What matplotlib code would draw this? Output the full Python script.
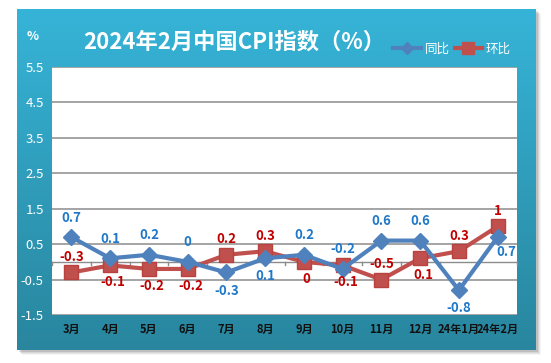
import numpy as np
import matplotlib
matplotlib.use("Agg")
import matplotlib.pyplot as plt
from matplotlib.patches import Rectangle
from matplotlib.lines import Line2D

plt.rcParams['font.family'] = ['Noto Sans CJK SC', 'DejaVu Sans']

categories = ['3月', '4月', '5月', '6月', '7月', '8月', '9月', '10月', '11月', '12月', '24年1月', '24年2月']
yoy = [0.7, 0.1, 0.2, 0, -0.3, 0.1, 0.2, -0.2, 0.6, 0.6, -0.8, 0.7]
mom = [-0.3, -0.1, -0.2, -0.2, 0.2, 0.3, 0, -0.1, -0.5, 0.1, 0.3, 1]
yoy_pos = ['a', 'a', 'a', 'a', 'b', 'b', 'a', 'a', 'a', 'a', 'b', 'br']
mom_pos = ['a', 'b', 'b', 'b', 'a', 'a', 'b', 'b', 'a', 'b', 'a', 'a']
yticks = [-1.5, -0.5, 0.5, 1.5, 2.5, 3.5, 4.5, 5.5]

W, H = 551, 363
fig = plt.figure(figsize=(W / 100, H / 100), dpi=100)
fig.patch.set_facecolor('white')

# shadow
bg = fig.add_axes([0, 0, 1, 1], zorder=0)
bg.set_xlim(0, W); bg.set_ylim(H, 0); bg.axis('off')
for i, a in enumerate([0.10, 0.08, 0.06, 0.04]):
    bg.add_patch(Rectangle((17 + 2 + i, 9 + 2 + i), 519, 341, color='black', alpha=a, lw=0))
# gradient panel
grad = np.linspace(0, 1, 256).reshape(-1, 1)
top = np.array([0x36, 0xB4, 0xD8]) / 255
bot = np.array([0x29, 0x86, 0x9E]) / 255
img = top[None, None, :] * (1 - grad[:, :, None]) + bot[None, None, :] * grad[:, :, None]
bg.imshow(img, extent=[17, 536, 350, 9], aspect='auto', zorder=1)

# plot area
x0, x1, yb, yt = 52, 517, 315, 67
ax = fig.add_axes([x0 / W, 1 - yb / H, (x1 - x0) / W, (yb - yt) / H], zorder=2)
ax.set_facecolor('white')
x = np.arange(len(categories))
ax.set_xlim(-0.5, len(categories) - 0.5)
ax.set_ylim(-1.5, 5.5)
ax.set_yticks(yticks)
ax.set_yticklabels([f'{v:g}' for v in yticks], color='white', fontsize=9.5)
ax.tick_params(axis='y', length=0, pad=6)
ax.grid(axis='y', color='#8c8c8c', lw=1.1)
ax.set_axisbelow(True)
for s in ax.spines.values():
    s.set_visible(False)
ax.set_xticks(x)
ax.set_xticklabels(categories, fontsize=8, fontweight='bold', color='#111111')
ax.tick_params(axis='x', length=0, pad=6)
# x-axis at zero with boundary ticks
ax.axhline(0, color='#8c8c8c', lw=1, zorder=1)
for b in np.arange(len(categories) + 1) - 0.5:
    ax.plot([b, b], [0, -0.1], color='#8c8c8c', lw=1, zorder=1, clip_on=False)

blue = '#4F81BD'
red = '#C0504D'
ax.plot(x, yoy, color=blue, lw=3, marker='D', ms=8.5, zorder=4)
ax.plot(x, mom, color=red, lw=3, marker='s', ms=10.5, mec='#B9413E', zorder=3)

def lab(vals, poss, color, up, down, dx=0):
    for xi, v, p in zip(x, vals, poss):
        if p == 'a':
            off = (0, up)
        elif p == 'b':
            off = (dx, -down)
        else:
            off = (6, -down + 2)
        ax.annotate(f'{v:g}', (xi, v), xytext=off, textcoords='offset points',
                    ha='center', va='center', color=color, fontsize=9.5, fontweight='bold', zorder=5)

lab(yoy, yoy_pos, '#1F78C8', 14, 13)
lab(mom, mom_pos, '#C00000', 11, 12, dx=2)

fig.text(83 / W, 1 - 42 / H, '2024年2月中国CPI指数（%）', color='white', fontsize=16,
         fontweight='bold', ha='left', va='center')
fig.text(33 / W, 1 - 36 / H, '%', color='white', fontsize=9, fontweight='bold', ha='center', va='center')

handles = [Line2D([], [], color=blue, lw=3, marker='D', ms=6),
           Line2D([], [], color=red, lw=3, marker='s', ms=8)]
fig.legend(handles, ['同比', '环比'], loc='center', bbox_to_anchor=(452 / W, 1 - 49 / H),
           ncol=2, frameon=False, fontsize=9, labelcolor='white', handlelength=2.2,
           handletextpad=0.3, columnspacing=0.4)

fig.savefig('out.png', dpi=100)
